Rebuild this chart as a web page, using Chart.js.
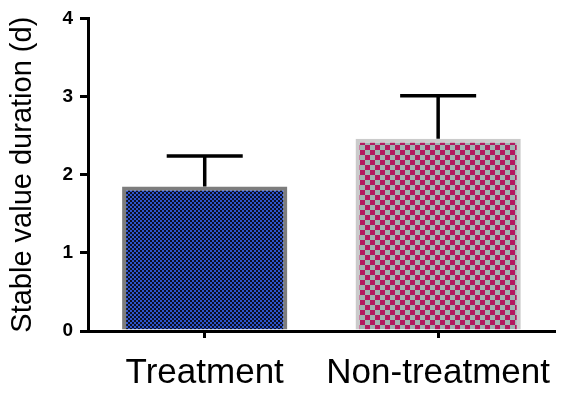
<!DOCTYPE html>
<html>
<head>
<meta charset="utf-8">
<script src="https://cdn.jsdelivr.net/npm/chart.js@4/dist/chart.umd.min.js"></script>
<style>
  html, body { margin: 0; padding: 0; background: #ffffff; }
  #wrap { width: 567px; height: 394px; }
</style>
</head>
<body>
<div id="wrap"><canvas id="c" width="567" height="394"></canvas></div>
<script>
// Groups, means and upper error limits (days)
const categories = ['Treatment', 'Non-treatment'];
const meanValues = [1.85, 2.46];
const upperErrors = [2.24, 3.01];
const yTicks = [0, 1, 2, 3, 4];

const FONT = "'Liberation Sans', Arial, Helvetica, sans-serif";

// Checkerboard fills for the bars
function checker(cell, colA, colB) {
  const c = document.createElement('canvas');
  c.width = cell * 2; c.height = cell * 2;
  const g = c.getContext('2d');
  g.fillStyle = colA; g.fillRect(0, 0, cell * 2, cell * 2);
  g.fillStyle = colB;
  g.fillRect(cell, 0, cell, cell);
  g.fillRect(0, cell, cell, cell);
  return g.createPattern(c, 'repeat');
}
const ctx = document.getElementById('c').getContext('2d');
const bluePattern = checker(2, '#2f55cc', '#0b0f22');
const magentaPattern = checker(5, '#b3195f', '#a1b3b2');

// Upper whisker with a horizontal cap, drawn through the chart's scales
const errorBars = {
  id: 'errorBars',
  afterDatasetsDraw(chart) {
    const meta = chart.getDatasetMeta(0);
    const y = chart.scales.y;
    const c = chart.ctx;
    c.save();
    c.strokeStyle = '#000000';
    c.lineWidth = 3.5;
    c.lineCap = 'butt';
    meta.data.forEach((bar, i) => {
      const x = bar.x;
      const yTop = y.getPixelForValue(upperErrors[i]);
      const yBar = y.getPixelForValue(meanValues[i]);
      const half = bar.width * 0.23;
      c.beginPath();
      c.moveTo(x, yBar);
      c.lineTo(x, yTop);
      c.moveTo(x - half, yTop);
      c.lineTo(x + half, yTop);
      c.stroke();
    });
    c.restore();
  }
};

new Chart(ctx, {
  type: 'bar',
  data: {
    labels: categories,
    datasets: [{
      data: meanValues,
      backgroundColor: [bluePattern, magentaPattern],
      borderColor: ['#7d7d7d', '#cbcbcb'],
      borderWidth: 4,
      borderSkipped: 'bottom',
      barPercentage: 0.8,
      categoryPercentage: 0.885
    }]
  },
  options: {
    responsive: false,
    animation: false,
    devicePixelRatio: 1,
    layout: { padding: { top: 12, right: 12, left: 0, bottom: 0 } },
    plugins: { legend: { display: false }, tooltip: { enabled: false } },
    scales: {
      x: {
        grid: { display: true, drawOnChartArea: false, offset: false, tickLength: 7, lineWidth: 3, color: '#000000' },
        border: { display: true, color: '#000000', width: 3 },
        ticks: { color: '#000000', padding: 14, font: { family: FONT, size: 35 } },
        afterFit(scale) { scale.height = 63; }
      },
      y: {
        min: 0, max: 4,
        afterBuildTicks(scale) { scale.ticks = yTicks.map(v => ({ value: v })); },
        grid: { display: true, drawOnChartArea: false, tickLength: 8, lineWidth: 3, color: '#000000' },
        border: { display: true, color: '#000000', width: 3 },
        ticks: { color: '#000000', padding: 7, font: { family: FONT, size: 19, weight: 'bold' } },
        title: {
          display: true,
          text: 'Stable value duration (d)',
          color: '#000000',
          font: { family: FONT, size: 29 },
          padding: { top: 6, bottom: 0 }
        },
        afterFit(scale) { scale.width = 88; }
      }
    }
  },
  plugins: [errorBars]
});
</script>
</body>
</html>
